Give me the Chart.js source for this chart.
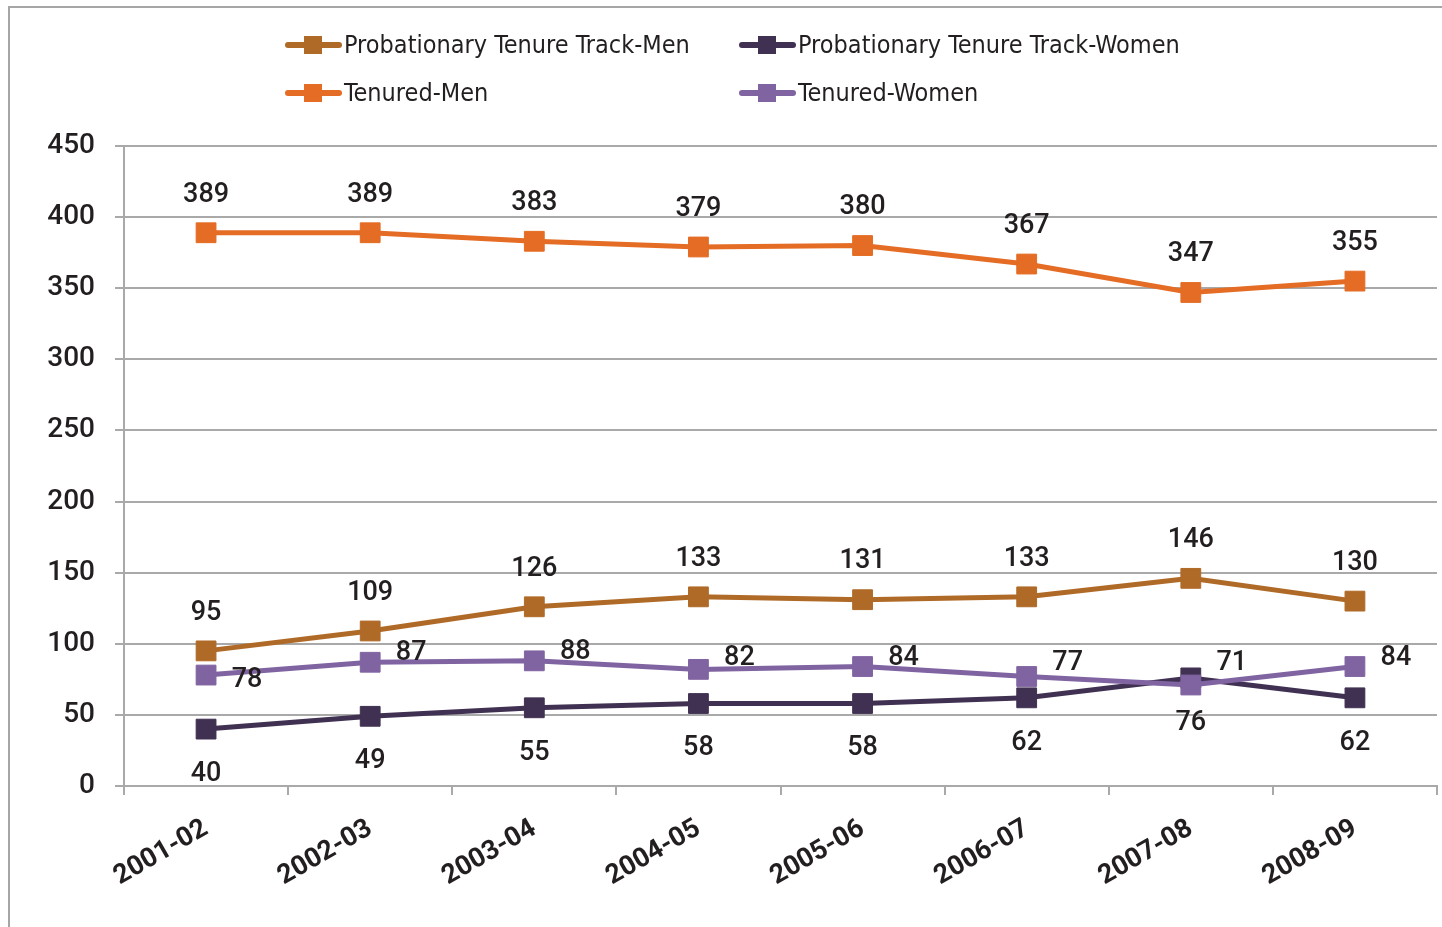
<!DOCTYPE html>
<html><head><meta charset="utf-8">
<script src="https://cdn.jsdelivr.net/npm/chart.js@4.4.0/dist/chart.umd.min.js"></script>
<style>
html,body{margin:0;padding:0;background:#fff;overflow:hidden;}
#wrap{position:relative;width:1442px;height:927px;}
#frame{position:absolute;left:8px;top:6px;width:1500px;height:1000px;border-left:2px solid #a6a6a6;border-top:2px solid #a6a6a6;}
#c{position:absolute;left:0;top:0;}
</style></head><body>
<div id="wrap"><div id="frame"></div><canvas id="c" width="1442" height="927"></canvas></div>
<script>
const categories = ['2001-02','2002-03','2003-04','2004-05','2005-06','2006-07','2007-08','2008-09'];
const seriesNames = ['Probationary Tenure Track-Men','Probationary Tenure Track-Women','Tenured-Men','Tenured-Women'];
const pttMen = [95,109,126,133,131,133,146,130];
const pttWomen = [40,49,55,58,58,62,76,62];
const tenuredMen = [389,389,383,379,380,367,347,355];
const tenuredWomen = [78,87,88,82,84,77,71,84];
const yMin = 0, yMax = 450, yStep = 50;

const colors = ['#B06A28','#403152','#E46C24','#8064A2'];
const labelPos = ['top','bottom','top','right'];
// vertical nudges of right-side labels (text placement only)
const rightLabelDy = [5,-9,-9,-11,-8,-13,-22,-8];
const TEXT = '#231f20';
const GRID = '#a9a9a9';

function ds(i, data, order){
  return {label: seriesNames[i], data, borderColor: colors[i], backgroundColor: colors[i],
    borderWidth: 5, pointStyle: 'rect', pointRadius: 14, pointHoverRadius: 14,
    pointBorderWidth: 1, pointBorderColor: colors[i], pointBackgroundColor: colors[i],
    tension: 0, fill: false, order, labelPos: labelPos[i]};
}

const dataLabels = {
  id: 'dataLabels',
  afterDatasetsDraw(chart){
    const ctx = chart.ctx;
    ctx.save();
    ctx.font = '500 27px Roboto';
    ctx.fillStyle = TEXT;
    ctx.textBaseline = 'middle';
    ctx.textAlign = 'center';
    chart.data.datasets.forEach((d, i) => {
      const meta = chart.getDatasetMeta(i);
      meta.data.forEach((pt, j) => {
        let x = pt.x, y = pt.y;
        if (d.labelPos === 'top') y -= 38;
        else if (d.labelPos === 'bottom') y += 45;
        else { x += 41; y += rightLabelDy[j]; }
        ctx.fillText(String(d.data[j]), x, y);
      });
    });
    ctx.restore();
  }
};

const legendGrid = {
  id: 'legendGrid',
  afterDraw(chart){
    const ctx = chart.ctx;
    const cols = [286, 740], rows = [45, 93];
    ctx.save();
    ctx.font = '25px "DejaVu Sans Condensed", "DejaVu Sans", sans-serif';
    try { ctx.fontStretch = 'condensed'; } catch(e) {}
    ctx.textBaseline = 'middle';
    ctx.textAlign = 'left';
    chart.data.datasets.forEach((d, i) => {
      const x = cols[i % 2], y = rows[Math.floor(i / 2)];
      ctx.strokeStyle = d.borderColor;
      ctx.lineWidth = 6;
      ctx.lineCap = 'round';
      ctx.beginPath(); ctx.moveTo(x + 2, y); ctx.lineTo(x + 53, y); ctx.stroke();
      ctx.fillStyle = d.borderColor;
      ctx.fillRect(x + 18, y - 9, 18, 18);
      ctx.fillStyle = TEXT;
      ctx.fillText(d.label, x + 58, y + 1);
    });
    ctx.restore();
  }
};

new Chart(document.getElementById('c'), {
  type: 'line',
  data: {
    labels: categories,
    datasets: [ds(0, pttMen, 2), ds(1, pttWomen, 3), ds(2, tenuredMen, 1), ds(3, tenuredWomen, 0)]
  },
  options: {
    responsive: false, devicePixelRatio: 1, animation: false,
    layout: {autoPadding: false, padding: {top: 146, right: 5, left: 0, bottom: 0}},
    plugins: {legend: {display: false}, tooltip: {enabled: false}, title: {display: false}},
    scales: {
      x: {
        type: 'category', offset: true,
        grid: {offset: true, drawOnChartArea: false, drawTicks: true, tickLength: 9, color: GRID, lineWidth: 2},
        border: {display: true, color: GRID, width: 2},
        ticks: {minRotation: 30, maxRotation: 30, autoSkip: false, padding: 18,
          font: {family: 'Roboto', weight: 'bold', size: 27}, color: TEXT},
        afterFit(s){ s.height = 141; s.paddingLeft = 0; s.paddingRight = 0; }
      },
      y: {
        min: yMin, max: yMax,
        ticks: {stepSize: yStep, padding: 20, font: {family: 'Roboto', weight: '500', size: 28}, color: TEXT},
        grid: {color: GRID, lineWidth: 2, tickLength: 9},
        border: {display: true, color: GRID, width: 2},
        afterFit(s){ s.width = 124; }
      }
    }
  },
  plugins: [dataLabels, legendGrid]
});
</script>
</body></html>
